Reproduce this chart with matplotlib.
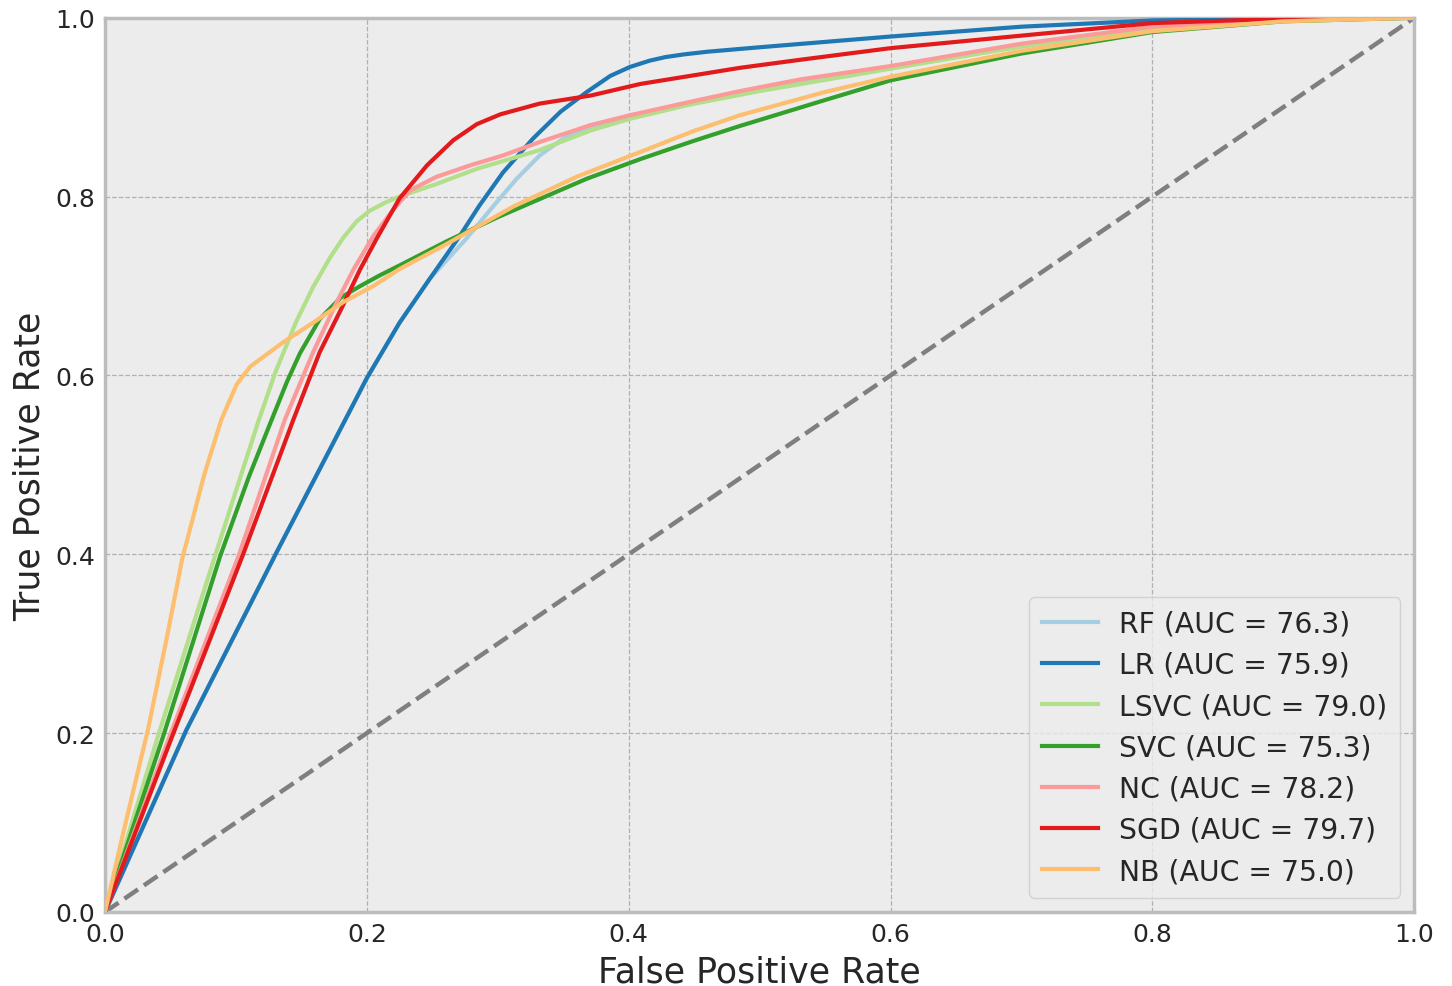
import numpy as np
import matplotlib.pyplot as plt

# ROC curves (fpr, tpr)
rf_fpr = [0, 0.062, 0.131, 0.2, 0.225, 0.248, 0.276, 0.297, 0.3145, 0.332, 0.353, 0.376,
          0.401, 0.45, 0.5, 0.6, 0.7, 0.8, 0.9, 1.0]
rf_tpr = [0, 0.203, 0.402, 0.597, 0.659, 0.708, 0.753, 0.790, 0.820, 0.846, 0.868, 0.880,
          0.888, 0.905, 0.919, 0.945, 0.968, 0.987, 0.997, 1.0]

lr_fpr = [0, 0.062, 0.131, 0.2, 0.225, 0.248, 0.271, 0.286, 0.304, 0.327, 0.348, 0.368,
          0.386, 0.401, 0.416, 0.428, 0.442, 0.46, 0.5, 0.6, 0.7, 0.8, 0.9, 1.0]
lr_tpr = [0, 0.203, 0.402, 0.597, 0.659, 0.708, 0.756, 0.790, 0.827, 0.865, 0.895, 0.917,
          0.935, 0.945, 0.952, 0.956, 0.959, 0.962, 0.967, 0.979, 0.990, 0.997, 0.999, 1.0]

lsvc_fpr = [0, 0.041, 0.084, 0.117, 0.130, 0.146, 0.159, 0.172, 0.182, 0.192, 0.202, 0.215,
            0.225, 0.253, 0.284, 0.332, 0.371, 0.401, 0.447, 0.5, 0.6, 0.7, 0.8, 0.9, 1.0]
lsvc_tpr = [0, 0.199, 0.398, 0.548, 0.603, 0.660, 0.699, 0.732, 0.754, 0.772, 0.784, 0.794,
            0.800, 0.814, 0.831, 0.852, 0.874, 0.887, 0.903, 0.918, 0.943, 0.968, 0.989, 0.998, 1.0]

svc_fpr = [0, 0.045, 0.088, 0.11, 0.125, 0.139, 0.149, 0.164, 0.180, 0.195, 0.210, 0.225, 0.261,
           0.3, 0.368, 0.409, 0.449, 0.485, 0.55, 0.6, 0.7, 0.8, 0.9, 1.0]
svc_tpr = [0, 0.199, 0.398, 0.487, 0.542, 0.593, 0.625, 0.663, 0.687, 0.700, 0.712, 0.723, 0.750,
           0.777, 0.820, 0.842, 0.862, 0.879, 0.908, 0.930, 0.960, 0.984, 0.996, 1.0]

nc_fpr = [0, 0.050, 0.102, 0.1375, 0.159, 0.177, 0.19, 0.205, 0.22, 0.233, 0.253, 0.279, 0.304,
          0.332, 0.371, 0.401, 0.447, 0.485, 0.531, 0.6, 0.7, 0.8, 0.9, 1.0]
nc_tpr = [0, 0.199, 0.398, 0.551, 0.626, 0.682, 0.719, 0.756, 0.785, 0.807, 0.822, 0.835, 0.846,
          0.861, 0.880, 0.891, 0.906, 0.918, 0.931, 0.946, 0.971, 0.990, 0.998, 1.0]

sgd_fpr = [0, 0.052, 0.105, 0.144, 0.164, 0.181, 0.195, 0.2075, 0.225, 0.246, 0.266, 0.284,
           0.302, 0.322, 0.332, 0.371, 0.409, 0.447, 0.485, 0.531, 0.6, 0.7, 0.8, 0.9, 1.0]
sgd_tpr = [0, 0.199, 0.398, 0.551, 0.626, 0.676, 0.719, 0.753, 0.798, 0.835, 0.863, 0.881,
           0.892, 0.900, 0.904, 0.913, 0.926, 0.935, 0.944, 0.953, 0.966, 0.980, 0.994, 0.999, 1.0]

nb_fpr = [0, 0.015, 0.033, 0.047, 0.059, 0.076, 0.089, 0.1006, 0.111, 0.136, 0.159, 0.182, 0.205,
          0.225, 0.261, 0.312, 0.360, 0.409, 0.449, 0.485, 0.55, 0.6, 0.7, 0.8, 0.9, 1.0]
nb_tpr = [0, 0.095, 0.205, 0.305, 0.395, 0.490, 0.551, 0.590, 0.610, 0.637, 0.659, 0.682, 0.700,
          0.719, 0.747, 0.789, 0.822, 0.850, 0.873, 0.891, 0.917, 0.934, 0.963, 0.985, 0.996, 1.0]

labels = ['RF (AUC = 76.3)', 'LR (AUC = 75.9)', 'LSVC (AUC = 79.0)', 'SVC (AUC = 75.3)',
          'NC (AUC = 78.2)', 'SGD (AUC = 79.7)', 'NB (AUC = 75.0)']
curves = [(rf_fpr, rf_tpr), (lr_fpr, lr_tpr), (lsvc_fpr, lsvc_tpr), (svc_fpr, svc_tpr),
          (nc_fpr, nc_tpr), (sgd_fpr, sgd_tpr), (nb_fpr, nb_tpr)]
colors = ['#a6cee3', '#1f78b4', '#b2df8a', '#33a02c', '#fb9a99', '#e31a1c', '#fdbf6f']

fig = plt.figure(figsize=(14.52, 9.87), dpi=100)
ax = fig.add_axes([0.0723, 0.075, 0.9017, 0.906])
ax.set_facecolor('#ececec')

ax.plot([0, 1], [0, 1], '--', c='#7f7f7f', lw=3.2, zorder=2)
for (x, y), c, lab in zip(curves, colors, labels):
    ax.plot(x, y, c=c, lw=3, label=lab, zorder=3, solid_joinstyle='round')

ax.set_xlim(0, 1)
ax.set_ylim(0, 1)
ax.set_xticks(np.arange(0, 1.01, 0.2))
ax.set_yticks(np.arange(0, 1.01, 0.2))
ax.grid(True, ls='--', c='#b0b0b0', lw=0.9)
ax.set_axisbelow(True)
ax.tick_params(length=0, labelsize=18, colors='#262626', pad=7)
for s in ax.spines.values():
    s.set_color('#bcbcbc')
    s.set_linewidth(2.5)

ax.set_xlabel('False Positive Rate', size=25, color='#262626', labelpad=6)
ax.set_ylabel('True Positive Rate', size=25, color='#262626', labelpad=6)

leg = ax.legend(loc='lower right', fontsize=20.3, frameon=True, handlelength=2.0,
                borderaxespad=0.5, labelspacing=0.47, handletextpad=0.75,
                borderpad=0.45)
leg.get_frame().set_facecolor('#ececec')
leg.get_frame().set_edgecolor('#cccccc')
for t in leg.get_texts():
    t.set_color('#262626')

fig.savefig('out.png', dpi=100)
